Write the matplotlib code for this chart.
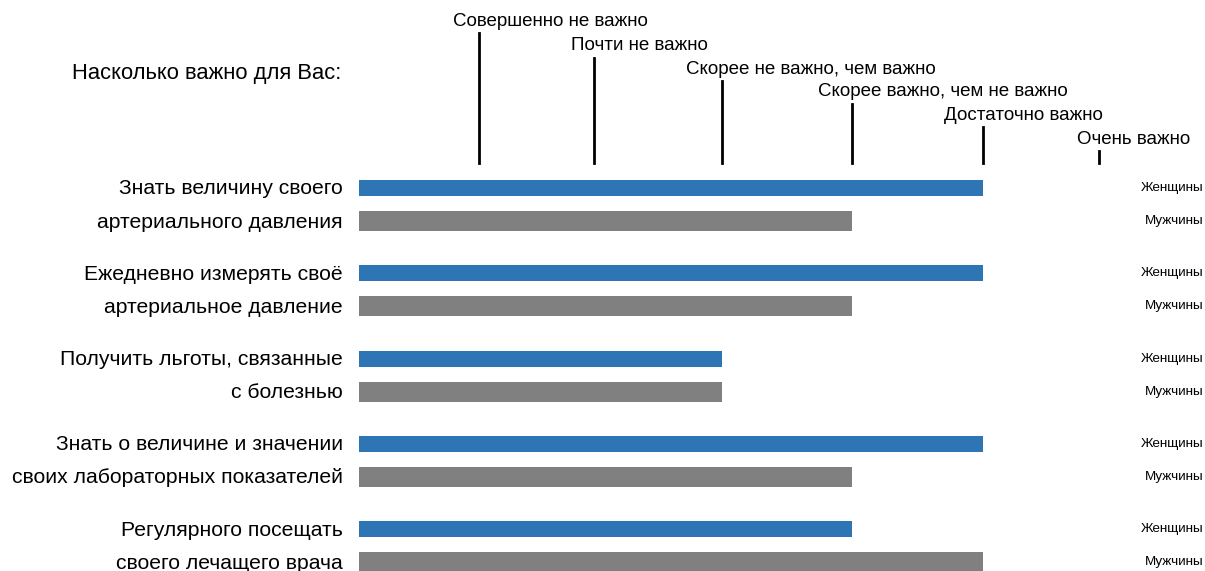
import matplotlib
matplotlib.use("Agg")
import matplotlib.pyplot as plt

# scale of answers (position of each level on the x axis)
levels = ["Совершенно не важно", "Почти не важно", "Скорее не важно, чем важно",
          "Скорее важно, чем не важно", "Достаточно важно", "Очень важно"]
level_pos = [0.96, 1.88, 2.91, 3.95, 5.0, 5.93]

questions = [("Знать величину своего", "артериального давления"),
             ("Ежедневно измерять своё", "артериальное давление"),
             ("Получить льготы, связанные", "с болезнью"),
             ("Знать о величине и значении", "своих лабораторных показателей"),
             ("Регулярного посещать", "своего лечащего врача")]
# answer level (1..6) for each question
women = [5, 5, 3, 5, 4]
men = [4, 4, 3, 4, 5]

blue = "#2e75b6"
gray = "#808080"

plt.rcParams["font.family"] = ["Liberation Sans", "DejaVu Sans"]

fig = plt.figure(figsize=(12.05, 5.71), dpi=100)
ax = fig.add_axes([0, 0, 1, 1])
unit = 124.8
ax.set_xlim(-359 / unit, (1205 - 359) / unit)
ax.set_ylim(571, 0)
ax.axis("off")

# header
ax.text(-18 / unit, 74, "Насколько важно для Вас:", ha="right", va="center", fontsize=15.8)
label_y = [21, 46, 69, 92, 115, 139]
label_off = [0.21, 0.18, 0.29, 0.27, 0.31, 0.18]
for i, lab in enumerate(levels):
    ax.text(level_pos[i] - label_off[i], label_y[i], lab, ha="left", va="center", fontsize=13.5)
    ax.plot([level_pos[i], level_pos[i]], [label_y[i] + 12, 163], color="black", lw=2)

y0 = 188
step = 85.3
for i, q in enumerate(questions):
    yw = y0 + i * step
    ym = yw + 33
    ax.barh(yw, level_pos[women[i] - 1], height=16, left=0, color=blue)
    ax.barh(ym, level_pos[men[i] - 1], height=20, left=0, color=gray)
    ax.text(-16 / unit, yw + 1, q[0], ha="right", va="center", fontsize=15.2)
    ax.text(-16 / unit, ym + 1, q[1], ha="right", va="center", fontsize=15.2)
    ax.text(6.77, yw, "Женщины", ha="right", va="center", fontsize=9.7)
    ax.text(6.77, ym, "Мужчины", ha="right", va="center", fontsize=9.7)

fig.savefig("out.png", dpi=100)
